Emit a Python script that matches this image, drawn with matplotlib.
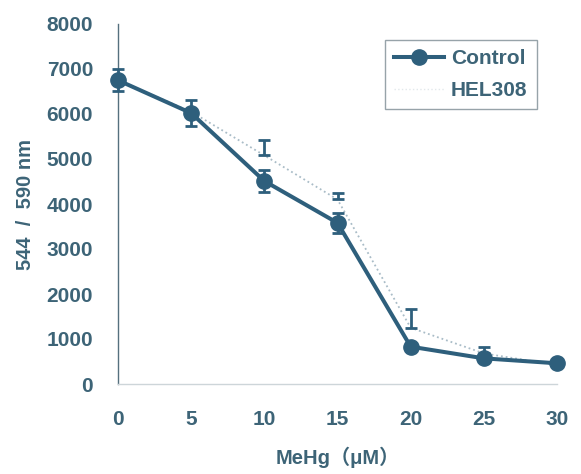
import matplotlib
matplotlib.use("Agg")
import matplotlib.pyplot as plt
from matplotlib.lines import Line2D

plt.rcParams['font.family'] = ['Liberation Sans', 'Noto Sans CJK JP', 'DejaVu Sans']

x = [0, 5, 10, 15, 20, 25, 30]
control = [6750, 6020, 4510, 3580, 830, 570, 460]
control_err = [250, 280, 240, 220, 60, 50, 40]
hel308 = [6750, 6050, 5080, 4100, 1250, 680, 420]
hel308_err = [0, 0, 340, 150, 420, 140, 0]

xticks = [0, 5, 10, 15, 20, 25, 30]
yticks = [0, 1000, 2000, 3000, 4000, 5000, 6000, 7000, 8000]

col = '#2e5f7c'
txt = '#3d6477'

fig = plt.figure(figsize=(5.81, 4.74), dpi=100)
ax = fig.add_axes([118/581, 90/474, 439/581, 360/474])

# HEL308 (faint dotted)
ax.plot(x, hel308, linestyle=':', color='#a9bcc7', lw=1.3, zorder=2, clip_on=False)
ax.errorbar(x, hel308, yerr=[[0]*7, hel308_err], fmt='none', ecolor=col,
            elinewidth=2.0, capsize=4.5, capthick=2.0, zorder=3, clip_on=False)

# Control
ax.errorbar(x, control, yerr=control_err, fmt='none', ecolor=col,
            elinewidth=2.0, capsize=4.5, capthick=2.0, zorder=3, clip_on=False)
ax.plot(x, control, color=col, lw=2.9, marker='o', markersize=11,
        markerfacecolor=col, markeredgecolor=col, zorder=4, clip_on=False)

ax.set_xlim(0, 30)
ax.set_ylim(0, 8000)
ax.set_xticks(xticks)
ax.set_yticks(yticks)
ax.tick_params(length=0, labelsize=15, colors=txt)
ax.tick_params(axis='y', pad=18)
ax.tick_params(axis='x', pad=19)
for lab in ax.get_xticklabels() + ax.get_yticklabels():
    lab.set_fontweight('bold')
for s in ['top', 'right']:
    ax.spines[s].set_visible(False)
ax.spines['left'].set_color('#55707e')
ax.spines['left'].set_linewidth(1.0)
ax.spines['bottom'].set_color('#cdd5d9')
ax.spines['bottom'].set_linewidth(1.0)

ax.set_ylabel('544  /  590 nm', fontsize=14.5, color=txt, fontweight='bold')
ax.yaxis.set_label_coords(-0.188, 0.5)
ax.set_xlabel('MeHg（μM）', fontsize=14.5, color=txt, fontweight='bold')
ax.xaxis.set_label_coords(0.5, -0.175)

handles = [Line2D([0], [0], color=col, lw=2.9, marker='o', markersize=11),
           Line2D([0], [0], color='#e2e8eb', lw=1.0, linestyle=':')]
leg = fig.legend(handles, ['Control', 'HEL308'], loc='upper left',
                 bbox_to_anchor=(385/581, 1 - 40/474), fontsize=15,
                 frameon=True, fancybox=False, edgecolor='#7d8c94',
                 handlelength=2.4, borderpad=0.45, labelspacing=0.6,
                 handletextpad=0.3, borderaxespad=0)
leg.get_frame().set_linewidth(1.0)
for t in leg.get_texts():
    t.set_color(txt)
    t.set_fontweight('bold')

fig.savefig('out.png', dpi=100)
